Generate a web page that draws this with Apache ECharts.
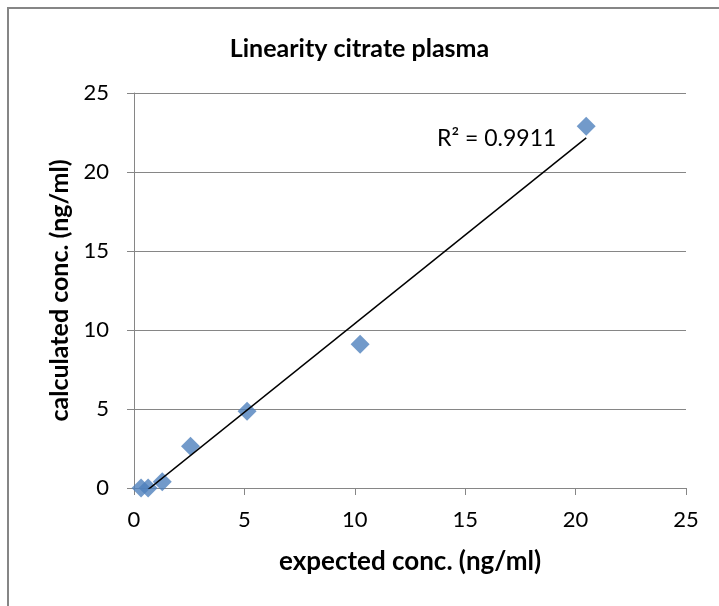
<!DOCTYPE html>
<html>
<head>
<meta charset="utf-8">
<script src="https://cdn.jsdelivr.net/npm/echarts@6/dist/echarts.min.js"></script>
<style>
html,body{margin:0;padding:0;background:#fff;}
#main{width:719px;height:606px;}
</style>
</head>
<body>
<div id="main"></div>
<script>
var titleText = 'Linearity citrate plasma';
var xName = 'expected conc. (ng/ml)';
var yName = 'calculated conc. (ng/ml)';
var expected = [0.32, 0.64, 1.28, 2.56, 5.12, 10.24, 20.48];
var calculated = [0, 0, 0.4, 2.65, 4.85, 9.1, 22.9];
var r2Label = 'R\u00B2 = 0.9911';
var axisMin = 0, axisMax = 25, axisStep = 5;

// least-squares trendline
var n = expected.length, sx = 0, sy = 0, sxx = 0, sxy = 0;
for (var i = 0; i < n; i++) { sx += expected[i]; sy += calculated[i]; sxx += expected[i]*expected[i]; sxy += expected[i]*calculated[i]; }
var slope = (n*sxy - sx*sy) / (n*sxx - sx*sx);
var icpt = (sy - slope*sx) / n;
var xmin = Math.min.apply(null, expected), xmax = Math.max.apply(null, expected);
var trend = [[xmin, slope*xmin + icpt], [xmax, slope*xmax + icpt]];

var points = expected.map(function (x, i) { return [x, calculated[i]]; });
var font = 'Lato, "Open Sans", sans-serif';
var gray = '#868686';

var chart = echarts.init(document.getElementById('main'));
chart.setOption({
  animation: false,
  textStyle: { fontFamily: font },
  title: {
    text: titleText, left: 'center', top: 31,
    textStyle: { fontFamily: font, fontSize: 25, fontWeight: 'bold', color: '#000' }
  },
  grid: { left: 134, right: 33, top: 93, bottom: 118 },
  xAxis: {
    type: 'value', min: axisMin, max: axisMax, interval: axisStep,
    name: xName, nameLocation: 'middle', nameGap: 61,
    nameTextStyle: { fontFamily: font, fontSize: 26, fontWeight: 'bold', color: '#000' },
    axisLine: { show: true, lineStyle: { color: gray, width: 1 } },
    axisTick: { show: true, length: 7, lineStyle: { color: gray } },
    axisLabel: { fontFamily: font, fontSize: 22, color: '#000', margin: 21 },
    splitLine: { show: false }
  },
  yAxis: {
    type: 'value', min: axisMin, max: axisMax, interval: axisStep,
    name: yName, nameLocation: 'middle', nameGap: 62, nameRotate: 90,
    nameTextStyle: { fontFamily: font, fontSize: 25, fontWeight: 'bold', color: '#000' },
    axisLine: { show: true, lineStyle: { color: gray, width: 1 } },
    axisTick: { show: true, length: 7, lineStyle: { color: gray } },
    axisLabel: { fontFamily: font, fontSize: 22, color: '#000', margin: 25 },
    splitLine: { show: true, lineStyle: { color: gray, width: 1 } }
  },
  graphic: [
    { type: 'polyline', shape: { points: [[8, 606], [8, 8], [719, 8]] }, style: { stroke: gray, lineWidth: 2, fill: null }, z: 10 },
    { type: 'text', left: 437, top: 127, style: { text: r2Label, font: '23px ' + font, fill: '#000' }, z: 10 }
  ],
  series: [
    {
      type: 'line', data: trend, symbol: 'none', clip: true,
      lineStyle: { color: '#000', width: 1.5 }, z: 3
    },
    {
      type: 'scatter', data: points, symbol: 'diamond', symbolSize: 19,
      itemStyle: { color: '#4F81BD' }, z: 2
    }
  ]
});
</script>
</body>
</html>
